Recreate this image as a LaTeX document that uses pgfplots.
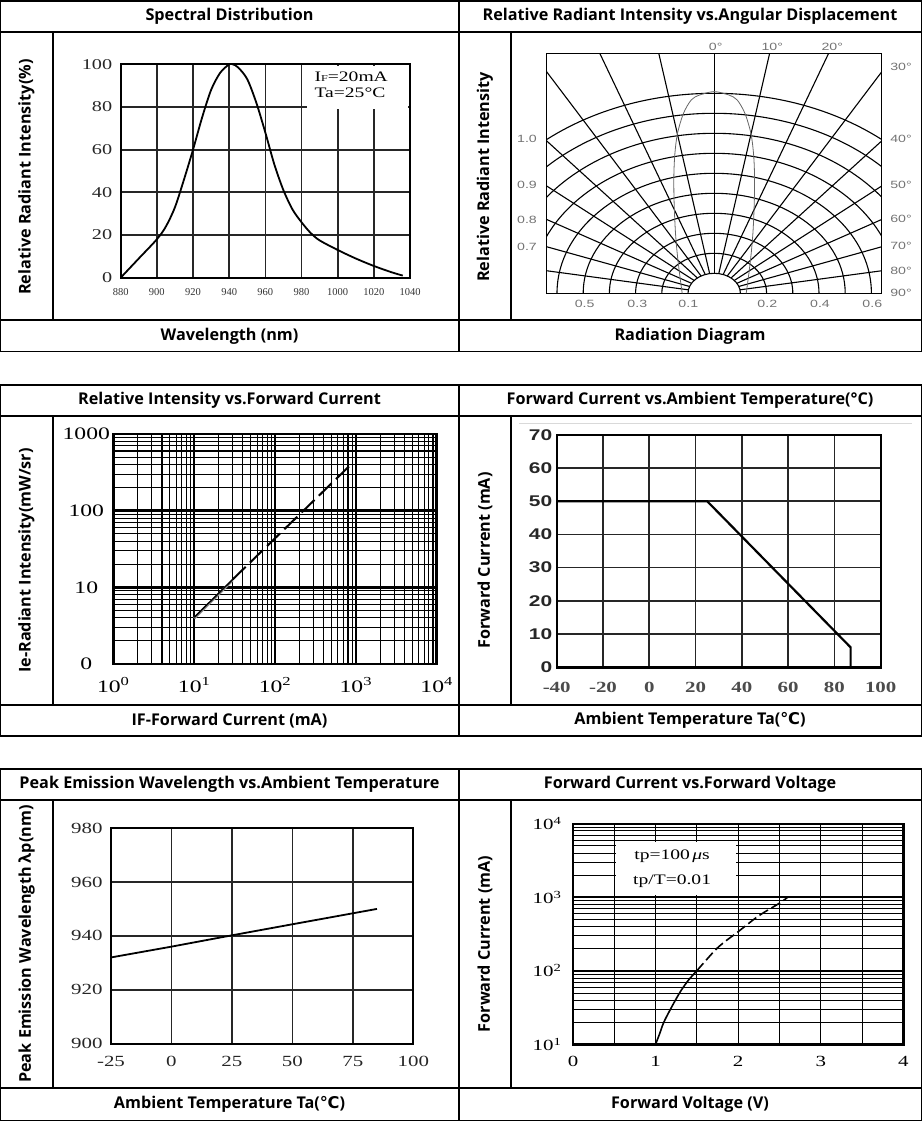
\documentclass[border=0pt]{standalone}
\usepackage{fontspec}
\usepackage{pgfplots}
\pgfplotsset{compat=1.18}
\setmainfont{Liberation Serif}
\newfontfamily\hdr{Open Sans}
\newfontfamily\lsans{Liberation Sans}
\newfontfamily\dvs{DejaVu Sans}
\newfontfamily\wserif{Liberation Serif}[FakeStretch=1.35]
\newfontfamily\wsans{Liberation Sans}[FakeStretch=1.35]
\newcommand\hfont{\hdr\bfseries\fontsize{16.2}{19}\selectfont}
\newcommand\degc{{\dvs\bfseries ℃}}

\pgfplotsset{
  panel/.style={
    scale only axis, anchor=south west,
    major tick length=0pt, minor tick length=0pt,
    tick style={draw=none},
    grid=major,
    major grid style={black!85, line width=1.7pt},
    axis line style={line width=2pt},
    /pgf/number format/assume math mode=true,
    /pgf/number format/1000 sep={},
  }
}

\begin{document}
\begin{tikzpicture}
\useasboundingbox (0,0) rectangle (923pt,-1122pt);
% table frames
\foreach \yt/\yh/\yf/\yb in {1/32/320/351.5, 385/416/705/736, 769/800/1088/1120.5}{
  \draw[line width=1.3pt] (0.8pt,-\yt pt) rectangle (921.5pt,-\yb pt);
  \draw[line width=1.3pt] (0.8pt,-\yh pt) -- (921.5pt,-\yh pt);
  \draw[line width=1.3pt] (0.8pt,-\yf pt) -- (921.5pt,-\yf pt);
  \draw[line width=1.3pt] (459pt,-\yt pt) -- (459pt,-\yb pt);
  \draw[line width=1.3pt] (53pt,-\yh pt) -- (53pt,-\yf pt);
  \draw[line width=1.3pt] (511pt,-\yh pt) -- (511pt,-\yf pt);
}
% headers
\node[font=\hfont] at (229.5pt,-16pt) {Spectral Distribution};
\node[font=\hfont] at (690pt,-16pt) {Relative Radiant Intensity vs.Angular Displacement};
\node[font=\hfont] at (229.5pt,-400pt) {Relative Intensity vs.Forward Current};
\node[font=\hfont] at (690pt,-400pt) {Forward Current vs.Ambient Temperature(\textdegree C)};
\node[font=\hfont] at (229.5pt,-784pt) {Peak Emission Wavelength vs.Ambient Temperature};
\node[font=\hfont] at (690pt,-784pt) {Forward Current vs.Forward Voltage};
% footers
\node[font=\hfont] at (229.5pt,-336pt) {Wavelength (nm)};
\node[font=\hfont] at (690pt,-336pt) {Radiation Diagram};
\node[font=\hfont] at (229.5pt,-720.5pt) {IF-Forward Current (mA)};
\node[font=\hfont] at (690pt,-720.5pt) {Ambient Temperature Ta(\degc)};
\node[font=\hfont] at (229.5pt,-1104pt) {Ambient Temperature Ta(\degc)};
\node[font=\hfont] at (690pt,-1104pt) {Forward Voltage (V)};
% y labels
\node[font=\hfont, rotate=90] at (26.5pt,-177pt) {Relative Radiant Intensity(\%)};
\node[font=\hfont, rotate=90] at (485pt,-177pt) {Relative Radiant Intensity};
\node[font=\hfont, rotate=90] at (26.5pt,-560.5pt) {Ie-Radiant Intensity(mW/sr)};
\node[font=\hfont, rotate=90] at (485pt,-560.5pt) {Forward Current (mA)};
\node[font=\hfont, rotate=90] at (26.5pt,-944pt) {Peak Emission Wavelength λp(nm)};
\node[font=\hfont, rotate=90] at (485pt,-944pt) {Forward Current (mA)};

% ---------- Spectral distribution
\begin{axis}[panel, at={(120.7pt,-277.7pt)}, width=289.3pt, height=213.4pt,
  xmin=880, xmax=1040, ymin=0, ymax=100,
  xtick={880,900,...,1040}, ytick={0,20,...,100},
  yticklabel style={font=\wserif\fontsize{15}{15}\selectfont, text=black!85, xshift=-5pt},
  xticklabel style={font=\fontsize{10.5}{10.5}\selectfont, text=black!80, yshift=-7pt},
  axis line style={line width=1.8pt}]
\fill[white] (axis cs:983,79) rectangle (axis cs:1039,99.2);
\node[font=\wserif\fontsize{14.5}{15.5}\selectfont, align=left] at (axis cs:1007.5,90.5)
  {I{\fontsize{9}{9}\selectfont F}=20mA\\Ta=25\textdegree C};
\addplot[black, line width=1.8pt, smooth] coordinates {
 (880,0) (890,9) (900,18) (905,24) (910,33) (915,46) (920,60) (925,75)
 (930,88) (935,96) (940,100) (942,100) (945,98.5) (950,93) (955,82)
 (960,68) (965,53) (970,41) (975,32) (980,26) (985,21) (990,17.5)
 (1000,13) (1010,9) (1020,5.5) (1030,2.5) (1036,1)};
\end{axis}

% ---------- Radiation diagram
\begin{axis}[panel, at={(546.7pt,-293.3pt)}, width=335pt, height=240pt,
  xmin=-167.5, xmax=167.5, ymin=0, ymax=240, xtick=\empty, ytick=\empty,
  grid=none, axis line style={line width=1.4pt}]
\pgfplotsinvokeforeach{1,...,10}{
  \draw[line width=1.1pt] (axis cs:0,0) ellipse [x radius={#1*26.2pt}, y radius={#1*20pt}];
}
\pgfplotsinvokeforeach{-80,-70,...,80}{
  \draw[line width=1.1pt] (axis cs:{26.2*sin(#1)},{20*cos(#1)}) -- (axis cs:{524*sin(#1)},{400*cos(#1)});
}
\addplot[black!60, line width=0.8pt, smooth] coordinates {
 (-32,0) (-34.7,20) (-37,40) (-38.7,60) (-39.7,80) (-40.3,100) (-40.3,120)
 (-39.3,140) (-36.7,160) (-30.7,180) (-23,193.3) (-14.7,198.3) (0,201.7)
 (14.7,198.3) (23,193.3) (30.7,180) (36.7,160) (39.3,140) (40.3,120)
 (40.3,100) (39.7,80) (38.7,60) (37,40) (34.7,20) (32,0)};
\end{axis}
\begin{scope}[font=\wsans\fontsize{10.5}{11}\selectfont, text=black!55]
\node at (527pt,-139.3pt) {1.0};
\node at (527pt,-185.3pt) {0.9};
\node at (527pt,-220pt) {0.8};
\node at (527pt,-247.3pt) {0.7};
\node at (584.7pt,-304pt) {0.5};
\node at (637.3pt,-304pt) {0.3};
\node at (688.3pt,-304pt) {0.1};
\node at (767.3pt,-304pt) {0.2};
\node at (820pt,-304pt) {0.4};
\node at (872.3pt,-304pt) {0.6};
\node at (715.7pt,-46.7pt) {0°};
\node at (772.3pt,-46.7pt) {10°};
\node at (832.3pt,-46.7pt) {20°};
\node at (901pt,-66.7pt) {30°};
\node at (901pt,-139.3pt) {40°};
\node at (901pt,-185.3pt) {50°};
\node at (901pt,-219.3pt) {60°};
\node at (901pt,-246pt) {70°};
\node at (901pt,-270.7pt) {80°};
\node at (901pt,-293.3pt) {90°};
\end{scope}

% ---------- Relative intensity vs forward current
\begin{axis}[panel, at={(113.3pt,-664pt)}, width=323.4pt, height=230pt,
  xmode=log, ymode=log, xmin=1, xmax=10000, ymin=1, ymax=1000,
  grid=both,
  xtick={1,10,100,1000,10000}, ytick={1,10,100,1000},
  minor xtick={2,3,...,9,20,30,...,90,200,300,...,900,2000,3000,...,9000},
  minor ytick={2,3,...,9,20,30,...,90,200,300,...,900},
  xticklabels={10\textsuperscript{0},10\textsuperscript{1},10\textsuperscript{2},10\textsuperscript{3},10\textsuperscript{4}},
  yticklabels={0,10,100,1000},
  major grid style={black, line width=2.4pt},
  minor grid style={black, line width=1.1pt},
  axis line style={line width=2.8pt},
  yticklabel style={font=\wserif\fontsize{17.5}{17.5}\selectfont, anchor=center, xshift=-27pt},
  xticklabel style={font=\wserif\fontsize{17.5}{17.5}\selectfont, anchor=center, yshift=-21pt}]
\addplot[black!45, line width=2.6pt] coordinates {(10,3.95) (30,12.4)};
\addplot[black, line width=1.4pt] coordinates {(10,4.06) (30,12.7)};
\addplot[black, line width=2pt, dash pattern=on 18pt off 6pt] coordinates {(30,12.7) (927,427)};
\end{axis}

% ---------- Forward current vs ambient temperature
\draw[black!15, line width=0.8pt] (519pt,-423.3pt) -- (912pt,-423.3pt);
\begin{axis}[panel, at={(556.7pt,-667.3pt)}, width=324pt, height=232.6pt,
  xmin=-40, xmax=100, ymin=0, ymax=70,
  xtick={-40,-20,...,100}, ytick={0,10,...,70},
  axis line style={line width=2.4pt},
  yticklabel style={font=\wsans\bfseries\fontsize{15.5}{16}\selectfont, text=black!85, xshift=-1pt},
  xticklabel style={font=\wserif\bfseries\fontsize{15.5}{16}\selectfont, text=black!70, yshift=-11pt}]
\addplot[black, line width=2.2pt] coordinates {(-40,50) (25,50) (87,6) (87,0)};
\end{axis}

% ---------- Peak emission wavelength
\begin{axis}[panel, at={(111pt,-1043.7pt)}, width=302.3pt, height=215.7pt,
  xmin=-25, xmax=100, ymin=900, ymax=980,
  xtick={-25,0,...,100}, ytick={900,920,...,980},
  axis line style={line width=2pt},
  yticklabel style={font=\wserif\fontsize{15.5}{16}\selectfont, text=black!85, xshift=-5pt},
  xticklabel style={font=\wserif\fontsize{15.5}{16}\selectfont, text=black!85, yshift=-9pt}]
\addplot[black, line width=1.8pt] coordinates {(-25,932) (0,936) (25,940.2) (50,944.3) (85,950)};
\end{axis}

% ---------- Forward current vs forward voltage
\begin{axis}[panel, at={(573pt,-1044.3pt)}, width=330.3pt, height=220.6pt,
  ymode=log, xmin=0, xmax=4, ymin=10, ymax=10000,
  grid=both,
  xtick={0,1,...,4}, ytick={10,100,1000,10000},
  minor xtick={0.5,1.5,2.5,3.5},
  minor ytick={20,30,...,90,200,300,...,900,2000,3000,...,9000},
  yticklabels={10\textsuperscript{1},10\textsuperscript{2},10\textsuperscript{3},10\textsuperscript{4}},
  major x grid style={black, line width=1pt},
  major y grid style={black, line width=1.9pt},
  minor grid style={black, line width=0.8pt},
  axis line style={line width=2.4pt},
  yticklabel style={font=\wserif\fontsize{15.5}{16}\selectfont, anchor=center, xshift=-26pt},
  xticklabel style={font=\wserif\fontsize{15.5}{16}\selectfont, yshift=-8pt}]
\fill[white] (axis cs:0.52,1070) rectangle (axis cs:1.97,5636);
\node[font=\wserif\fontsize{14.5}{15}\selectfont] at (axis cs:1.2,3597) {tp=100\,{\itshape μ}s};
\node[font=\wserif\fontsize{14.5}{15}\selectfont] at (axis cs:1.2,1663) {tp/T=0.01};
\addplot[black, line width=1.6pt, smooth] coordinates {(1.0,10) (1.05,14) (1.1,20) (1.2,33) (1.3,52) (1.4,75) (1.5,100)};
\addplot[black, line width=1.6pt, smooth, dash pattern=on 10pt off 4pt] coordinates {(1.5,100) (1.75,205) (2.0,340) (2.25,560) (2.5,830) (2.6,1000)};
\end{axis}
\end{tikzpicture}
\end{document}
